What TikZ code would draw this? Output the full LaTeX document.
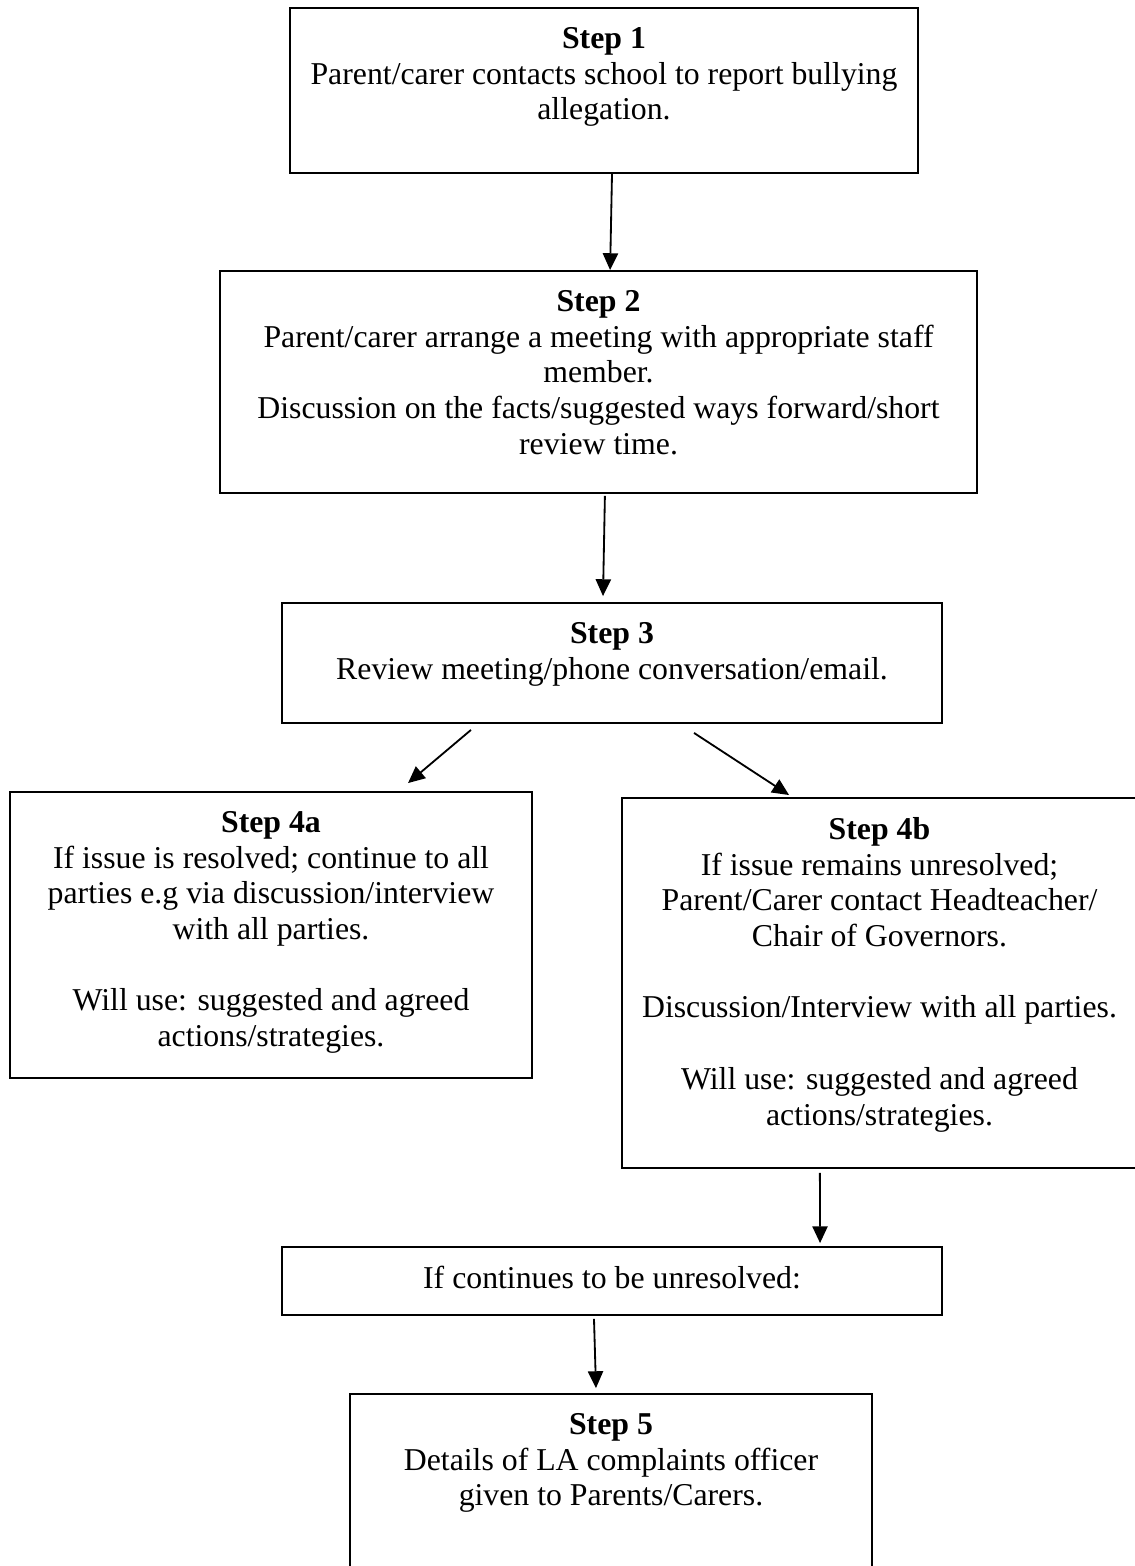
\documentclass[tikz,border=0pt]{standalone}
\usepackage{fontspec}
\setmainfont{Liberation Serif}
\usetikzlibrary{positioning,arrows.meta}
\usepackage{xcolor}

\tikzset{
	stepbox/.style={draw=black, line width=1.3pt, rectangle, inner sep=0pt},
	steptext/.style={align=center, inner sep=0pt, font=\fontsize{22.6}{25.4}\selectfont},
	arr/.style={line width=1.3pt, -{Triangle[length=0.42cm, width=0.38cm]}}
}

\begin{document}
\begin{tikzpicture}[x=0.025cm, y=-0.025cm]
	\useasboundingbox (0,0) rectangle (1135,1566);
	
	% Step 1
	\node[stepbox, minimum width=15.7cm, minimum height=4.125cm] (s1) at (604,90.5) {};
	\node[steptext, below=0.5cm of s1.north] (t1) {\textbf{Step 1}\\Parent/carer contacts school to report bullying\\allegation.};
	
	% Step 2
	\node[stepbox, minimum width=18.925cm, minimum height=5.55cm] (s2) at (598.5,382) {};
	\node[steptext, below=0.5cm of s2.north] (t2) {\textbf{Step 2}\\Parent/carer arrange a meeting with appropriate staff\\member.\\Discussion on the facts/suggested ways forward/short\\review time.};
	
	% Step 3
	\node[stepbox, minimum width=16.5cm, minimum height=3cm] (s3) at (612,663) {};
	\node[steptext, below=0.5cm of s3.north] (t3) {\textbf{Step 3}\\Review meeting/phone conversation/email.};
	
	% Step 4a and 4b
	\node[stepbox, minimum width=13.05cm, minimum height=7.15cm] (s4a) at (271,935) {};
	\node[steptext, below=0.5cm of s4a.north] (t4a) {\textbf{Step 4a}\\If issue is resolved; continue to all\\parties e.g via discussion/interview\\with all parties.\\[25.4pt]Will use: suggested and agreed\\actions/strategies.};
	
	\node[stepbox, minimum width=12.875cm, minimum height=9.25cm] (s4b) at (879.5,983) {};
	\node[steptext, below=0.5cm of s4b.north] (t4b) {\textbf{Step 4b}\\If issue remains unresolved;\\Parent/Carer contact Headteacher/\\Chair of Governors.\\[25.4pt]Discussion/Interview with all parties.\\[25.4pt]Will use: suggested and agreed\\actions/strategies.};
	
	% Still unresolved
	\node[stepbox, minimum width=16.5cm, minimum height=1.7cm] (cont) at (612,1281) {};
	\node[steptext, below=0.5cm of cont.north] (tcont) {If continues to be unresolved:};
	
	% Step 5
	\node[stepbox, minimum width=13.05cm, minimum height=4.65cm] (s5) at (611,1487) {};
	\node[steptext, below=0.5cm of s5.north] (t5) {\textbf{Step 5}\\Details of LA complaints officer\\given to Parents/Carers.};
	
	% Arrows
	\draw[arr] ([xshift=0.2cm]s1.south) -- ([xshift=0.29cm]s2.north);
	\draw[arr] ([xshift=0.16cm,yshift=-0.05cm]s2.south) -- ([xshift=-0.225cm,yshift=0.15cm]s3.north);
	\draw[arr] ([xshift=-3.525cm,yshift=-0.15cm]s3.south) -- ([xshift=3.425cm,yshift=0.2cm]s4a.north);
	\draw[arr] ([xshift=2.05cm,yshift=-0.225cm]s3.south) -- ([xshift=-2.26cm,yshift=0.05cm]s4b.north);
	\draw[arr] ([xshift=-1.49cm,yshift=-0.1cm]s4b.south) -- ([xshift=5.2cm,yshift=0.075cm]cont.north);
	\draw[arr] ([xshift=-0.45cm,yshift=-0.075cm]cont.south) -- ([xshift=-0.375cm,yshift=0.125cm]s5.north);
	
\end{tikzpicture}
\end{document}
